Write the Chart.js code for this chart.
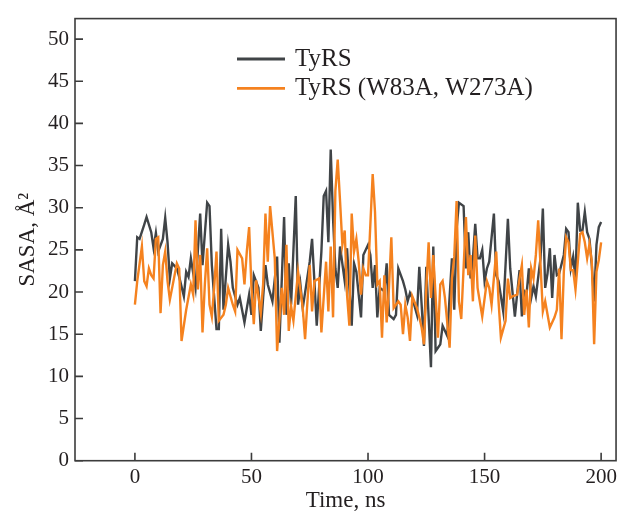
<!DOCTYPE html>
<html>
<head>
<meta charset="utf-8">
<script src="https://cdn.jsdelivr.net/npm/chart.js@4.4.1/dist/chart.umd.min.js"></script>
<style>
  html, body { margin: 0; padding: 0; background: #fff; }
  #wrap { width: 621px; height: 514px; position: relative; }
</style>
</head>
<body>
<div id="wrap"><canvas id="sasaChart"></canvas></div>
<script>
// TyRS (wild type)
const wildTime = [0,1,2,4,5,7,8,9,10,12,13,14,15,16,18,19,21,22,23,24,26,28,29,31,32,33,35,36,37,38,40,41,42,44,45,47,49,50,51,53,54,55,56,57,59,61,62,64,65,66,67,69,70,71,72,75,76,77,78,80,81,82,83,84,85,86,87,88,90,91,93,94,95,97,98,100,101,102,103,104,105,107,108,109,111,112,113,115,116,117,118,119,121,122,123,124,125,127,128,129,130,131,132,134,136,137,138,139,141,142,143,144,145,146,147,148,149,150,151,152,154,155,156,158,160,161,163,165,166,167,168,169,170,171,172,174,175,176,177,178,179,180,181,182,184,185,186,187,188,189,190,191,192,193,194,195,196,197,198,199,200];
const wildSasa = [21.3,26.5,26.3,28.0,28.9,27.1,25.2,27.0,24.8,26.3,28.8,25.9,21.6,23.4,22.8,21.8,19.5,22.4,21.8,24.0,20.5,29.3,23.2,30.6,30.2,23.2,15.6,15.6,27.5,17.9,25.6,23.6,20.5,18.5,19.3,16.4,19.7,17.3,22.0,20.5,15.4,19.3,23.2,20.9,18.9,24.2,14.0,28.9,17.3,23.4,18.5,31.4,18.5,20.9,18.1,23.6,26.3,21.3,16.0,24.8,31.4,32.0,25.9,36.9,28.7,22.8,20.5,25.4,21.3,25.2,16.0,23.4,22.4,17.0,24.4,25.6,24.4,20.5,23.2,17.0,20.5,20.1,23.4,17.3,16.8,17.3,22.8,21.3,20.3,18.9,19.9,19.3,17.3,23.0,18.5,13.6,23.0,11.1,25.4,13.0,13.4,13.8,16.0,14.8,24.0,17.9,27.5,30.6,30.2,22.8,27.1,21.6,24.0,28.1,24.0,24.0,25.0,21.3,22.8,23.6,29.3,22.0,21.3,17.7,28.7,22.8,17.1,22.6,17.1,20.1,19.7,22.8,19.3,20.7,19.5,24.0,29.9,20.5,22.2,25.2,19.3,24.4,22.0,22.2,24.4,27.5,27.1,22.8,24.2,21.6,30.6,27.3,27.3,29.5,27.1,26.3,23.2,18.9,25.6,27.7,28.3];

// TyRS (W83A, W273A)
const mutTime = [0,1,3,4,5,6,7,8,9,10,11,12,13,14,15,18,19,20,22,24,25,26,27,28,29,30,31,32,33,34,35,36,38,39,40,42,43,44,46,47,48,49,50,51,52,54,55,56,57,58,60,61,63,64,65,66,67,68,70,72,73,75,76,77,79,80,82,83,84,85,86,87,88,89,90,91,92,93,94,95,96,97,98,99,100,102,103,104,105,106,107,108,109,110,111,113,114,115,116,117,118,119,121,122,123,124,125,126,127,128,130,131,132,133,135,136,137,138,139,140,142,143,144,145,146,147,149,151,152,153,155,156,157,159,160,161,162,164,165,166,167,168,169,170,171,172,173,174,175,176,178,180,181,182,183,184,185,186,187,188,189,190,191,192,193,194,195,196,197,198,199,200];
const mutSasa = [18.5,21.3,25.4,21.3,20.7,22.8,22.0,21.6,26.3,26.5,17.5,23.2,24.8,21.3,19.1,23.4,22.8,14.2,17.9,20.9,19.7,28.5,20.3,24.4,15.2,20.9,25.2,18.5,17.1,20.5,24.8,16.6,17.3,18.5,20.5,18.5,17.7,25.0,24.0,20.9,24.8,27.7,20.5,16.2,21.4,17.5,20.9,29.3,23.6,30.2,24.0,13.0,20.5,17.3,25.6,15.4,18.3,16.6,22.4,18.1,14.4,23.2,17.7,21.3,21.6,15.2,23.6,17.7,25.4,17.0,32.0,35.7,30.8,25.6,27.3,19.7,16.0,29.3,24.8,26.3,23.6,19.7,22.8,22.0,22.0,34.0,29.5,20.9,21.3,14.6,22.0,16.4,20.5,26.5,18.1,18.9,18.5,15.0,18.5,17.0,14.2,19.5,18.1,17.0,15.8,13.8,20.5,25.9,19.3,24.4,14.6,20.9,21.3,19.3,13.4,21.6,24.2,30.8,18.9,16.8,28.9,22.0,24.4,18.9,26.7,20.5,17.1,21.3,20.5,18.5,24.8,18.9,14.6,16.6,21.6,19.3,19.5,19.7,21.6,23.2,17.3,20.3,15.8,22.8,21.6,24.4,28.5,23.2,17.7,18.9,15.8,17.0,17.9,22.8,14.4,22.4,26.5,25.9,22.6,22.6,20.3,23.6,26.9,27.1,25.9,24.0,25.7,23.6,13.8,22.4,23.8,25.9];

const seriesLabels = ["TyRS", "TyRS (W83A, W273A)"];
const seriesColors = ["#404447", "#f5821f"];
const xTicks = [0, 50, 100, 150, 200];
const yTicks = [0, 5, 10, 15, 20, 25, 30, 35, 40, 45, 50];

const textColor = "#231f20";
const frameColor = "#3c3c3c";
const serif = "'Liberation Serif', 'DejaVu Serif', serif";
Chart.defaults.font.family = serif;
Chart.defaults.color = textColor;

function toPoints(xs, ys) {
  return xs.map((x, i) => ({ x: x, y: ys[i] }));
}

// box round the plot area and short inward ticks
const frameTicks = {
  id: "frameTicks",
  afterDraw(chart) {
    const { ctx, chartArea: a, scales } = chart;
    ctx.save();
    ctx.strokeStyle = frameColor;
    ctx.lineWidth = 1.6;
    ctx.strokeRect(a.left, a.top, a.right - a.left, a.bottom - a.top);
    ctx.beginPath();
    xTicks.forEach(v => {
      const px = scales.x.getPixelForValue(v);
      ctx.moveTo(px, a.bottom);
      ctx.lineTo(px, a.bottom - 8);
    });
    yTicks.forEach(v => {
      const py = scales.y.getPixelForValue(v);
      ctx.moveTo(a.left, py);
      ctx.lineTo(a.left + 8, py);
    });
    ctx.stroke();
    ctx.restore();
  }
};

// legend sits inside the plot, upper middle
const innerLegend = {
  id: "innerLegend",
  afterDraw(chart) {
    const ctx = chart.ctx;
    ctx.save();
    ctx.font = "25px " + serif;
    ctx.textBaseline = "alphabetic";
    ctx.fillStyle = textColor;
    chart.data.datasets.forEach((ds, i) => {
      const y = 59 + i * 29.3;
      ctx.strokeStyle = ds.borderColor;
      ctx.lineWidth = 2.8;
      ctx.beginPath();
      ctx.moveTo(237, y);
      ctx.lineTo(285, y);
      ctx.stroke();
      ctx.fillText(ds.label, 295, y + 6.5);
    });
    ctx.restore();
  }
};

new Chart(document.getElementById("sasaChart"), {
  type: "line",
  data: {
    datasets: [
      {
        label: seriesLabels[0],
        data: toPoints(wildTime, wildSasa),
        borderColor: seriesColors[0],
        borderWidth: 2.4,
        pointRadius: 0,
        tension: 0,
        order: 1
      },
      {
        label: seriesLabels[1],
        data: toPoints(mutTime, mutSasa),
        borderColor: seriesColors[1],
        borderWidth: 2.4,
        pointRadius: 0,
        tension: 0,
        order: 0
      }
    ]
  },
  options: {
    responsive: true,
    maintainAspectRatio: false,
    animation: false,
    layout: { padding: { top: 14, right: 4.5, left: 0, bottom: 0 } },
    plugins: { legend: { display: false }, tooltip: { enabled: false } },
    scales: {
      x: {
        type: "linear",
        min: -25.7,
        max: 206.4,
        afterBuildTicks: s => { s.ticks = xTicks.map(v => ({ value: v })); },
        afterFit: s => { s.height = 53.3; },
        grid: { display: false, drawTicks: false },
        border: { display: false },
        ticks: { font: { size: 21 }, padding: 4, maxRotation: 0 },
        title: { display: true, text: "Time, ns", font: { size: 23 }, padding: { top: 0, bottom: -1 } }
      },
      y: {
        type: "linear",
        min: 0,
        max: 52.43,
        afterBuildTicks: s => { s.ticks = yTicks.map(v => ({ value: v })); },
        afterFit: s => { s.width = 75; },
        grid: { display: false, drawTicks: false },
        border: { display: false },
        ticks: { font: { size: 21 }, padding: 6 },
        title: { display: true, text: "SASA, Å²", font: { size: 23 }, padding: { top: 14, bottom: 0 } }
      }
    }
  },
  plugins: [frameTicks, innerLegend]
});
</script>
</body>
</html>
